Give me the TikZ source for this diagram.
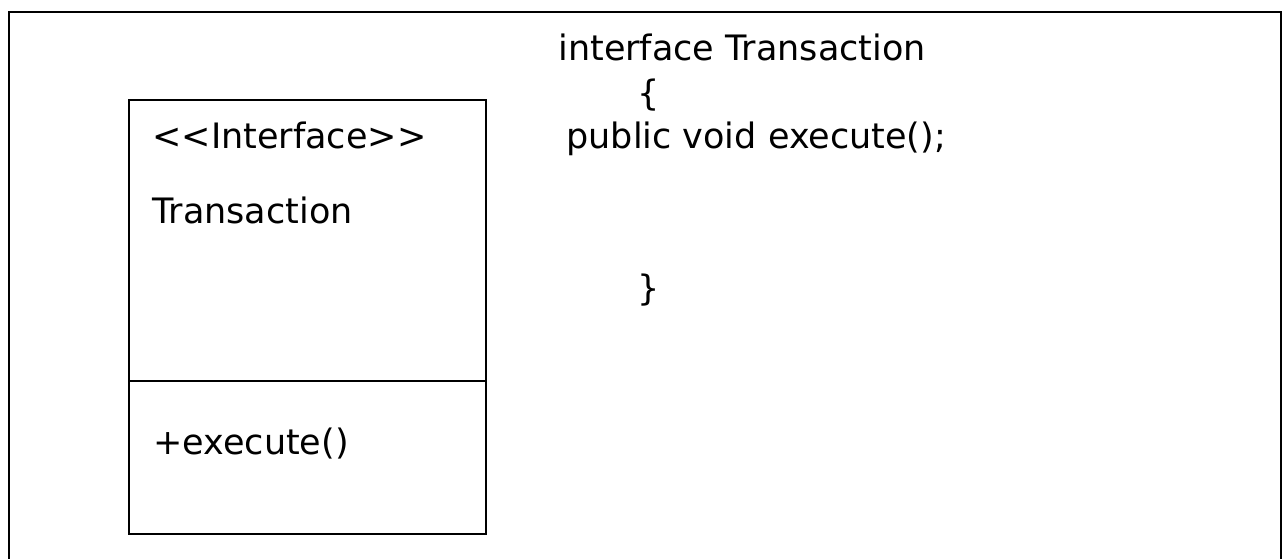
\documentclass[tikz,border=0pt]{standalone}
\usepackage{fontspec}
\usepackage{tikz}
\usetikzlibrary{positioning}
\newfontfamily\uifont{DejaVu Sans}

\tikzset{
    label text/.style={inner sep=0pt, anchor=base west, font=\uifont\fontsize{17.5}{21}\selectfont}
}

\begin{document}
\begin{tikzpicture}[x=0.5pt, y=-0.5pt]
    \clip (0,0) rectangle (1288,558);
    % Frame
    \draw[line width=1pt] (9,12) rectangle (1281,590);

    % Class box
    \draw[line width=0.8pt] (129,100) rectangle (486,534);
    \draw[line width=0.6pt] (129,381) -- (486,381);
    \node[label text] (stereo) at (152,148) {<{}<Interface>{}>};
    \node[label text] (cname) at (152,223) {Transaction};
    \node[label text] (method) at (153,454) {+execute()};

    % Code
    \node[label text] (decl) at (558,60) {interface Transaction};
    \node[label text] (open) at (637,105) {\{};
    \node[label text] (sig) at (566,148) {public void execute();};
    \node[label text] (close) at (637,300) {\}};
\end{tikzpicture}
\end{document}
